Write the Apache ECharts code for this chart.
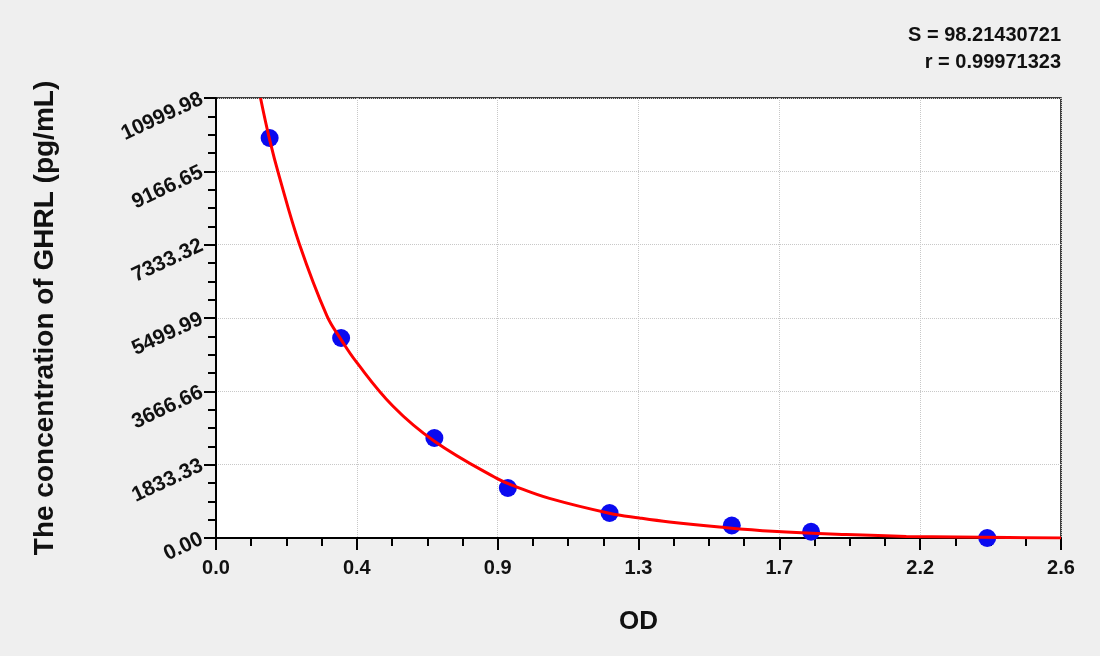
<!DOCTYPE html>
<html>
<head>
<meta charset="utf-8">
<script src="https://cdn.jsdelivr.net/npm/echarts@6/dist/echarts.min.js"></script>
<style>
html, body { margin: 0; padding: 0; background: #efefef; }
#main { width: 1100px; height: 656px; }
</style>
</head>
<body>
<div id="main"></div>
<script>
// standards (OD, concentration)
var pointOD = [0.165, 0.385, 0.672, 0.898, 1.211, 1.587, 1.831, 2.373];
var pointConc = [10000, 5000, 2500, 1250, 625, 312.5, 156, 0];

// fitted curve
var curveOD = [0.137, 0.165, 0.195, 0.257, 0.341, 0.385, 0.43, 0.544, 0.672, 0.864, 0.924, 1.026, 1.21, 1.303, 1.395, 1.549, 1.712, 1.939, 2.124, 2.44, 2.6];
var curveConc = [11000, 9960, 9030, 7340, 5560, 4960, 4420, 3300, 2420, 1490, 1280, 990, 620, 500, 400, 275, 170, 85, 40, 10, 0];

var statLines = ['S = 98.21430721', 'r = 0.99971323'];
var xTitle = 'OD';
var yTitle = 'The concentration of GHRL (pg/mL)';

var xMax = 2.6;
var yMax = 10999.98;

function zip(a, b) {
    return a.map(function(v, i) { return [v, b[i]]; });
}

var myChart = echarts.init(document.getElementById('main'));
var font = 'Liberation Sans, Arial, sans-serif';
var option = {
    backgroundColor: '#efefef',
    animation: false,
    grid: {
        left: 216, right: 39, top: 98, bottom: 118,
        show: true, backgroundColor: '#ffffff',
        borderColor: '#000', borderWidth: 1.5
    },
    graphic: [{
        type: 'text', right: 39, top: 22,
        style: {
            text: statLines.join('\n'), textAlign: 'right',
            font: 'bold 20px ' + font, fill: '#111', lineHeight: 27
        }
    }],
    xAxis: {
        type: 'value', min: 0, max: xMax, interval: xMax / 6,
        name: xTitle, nameLocation: 'middle', nameGap: 71,
        nameTextStyle: { fontFamily: font, fontWeight: 'bold', fontSize: 26, color: '#111' },
        axisLine: { lineStyle: { color: '#000', width: 2 } },
        axisTick: { length: 12, lineStyle: { color: '#000', width: 2 } },
        minorTick: { show: true, splitNumber: 4, length: 8, lineStyle: { color: '#000', width: 2 } },
        axisLabel: {
            margin: 20, color: '#111', fontFamily: font, fontWeight: 'bold', fontSize: 20,
            formatter: function(v) { return v.toFixed(1); }
        },
        splitLine: { lineStyle: { color: '#c8c8c8', type: 'dotted' } }
    },
    yAxis: {
        type: 'value', min: 0, max: yMax, interval: 1833.33,
        name: yTitle, nameLocation: 'middle', nameGap: 157, nameRotate: 90,
        nameTextStyle: { fontFamily: font, fontWeight: 'bold', fontSize: 28, color: '#111' },
        axisLine: { lineStyle: { color: '#000', width: 2 } },
        axisTick: { length: 12, lineStyle: { color: '#000', width: 2 } },
        minorTick: { show: true, splitNumber: 4, length: 8, lineStyle: { color: '#000', width: 2 } },
        axisLabel: {
            margin: 14, rotate: 25, color: '#111', fontFamily: font, fontWeight: 'bold', fontSize: 21,
            formatter: function(v) { return v.toFixed(2); }
        },
        splitLine: { lineStyle: { color: '#c8c8c8', type: 'dotted' } }
    },
    series: [{
        type: 'line',
        data: zip(curveOD, curveConc),
        smooth: 0.4,
        showSymbol: false,
        clip: true,
        lineStyle: { color: '#ff0000', width: 3 },
        z: 3
    }, {
        type: 'scatter',
        data: zip(pointOD, pointConc),
        symbolSize: 18,
        itemStyle: { color: '#0a0af0', opacity: 1 },
        z: 2
    }]
};
myChart.setOption(option);
</script>
</body>
</html>
